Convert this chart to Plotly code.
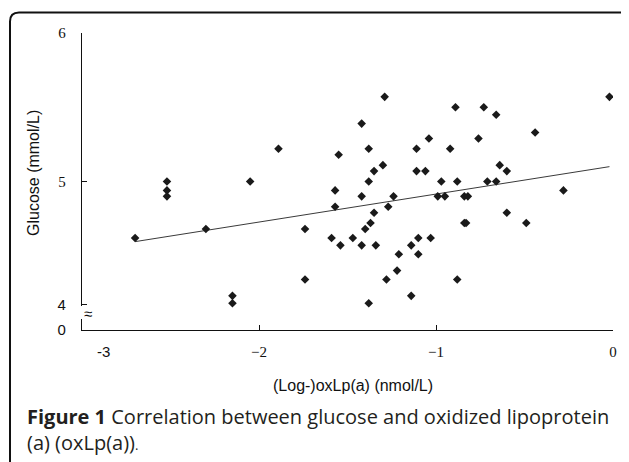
import plotly.graph_objects as go

# ---- data ----
ox_lpa_log = [-2.70, -2.52, -2.52, -2.52, -2.30, -2.15, -2.15, -2.05, -1.89, -1.74,
              -1.74, -1.59, -1.55, -1.57, -1.57, -1.54, -1.47, -1.42, -1.42, -1.42,
              -1.29, -1.38, -1.30, -1.35, -1.38, -1.24, -1.27, -1.35, -1.37, -1.40,
              -1.34, -1.21, -1.22, -1.28, -1.38, -1.14, -1.14, -1.10, -1.10, -1.03,
              -1.11, -1.04, -1.11, -1.06, -0.97, -0.99, -0.95, -0.89, -0.92, -0.88,
              -0.84, -0.82, -0.84, -0.83, -0.88, -0.73, -0.66, -0.76, -0.71, -0.66,
              -0.64, -0.60, -0.60, -0.49, -0.44, -0.28, -0.02]
glucose = [4.62, 5.00, 4.94, 4.90, 4.68, 4.23, 4.18, 5.00, 5.22, 4.68,
           4.34, 4.62, 5.18, 4.94, 4.83, 4.57, 4.62, 5.39, 4.90, 4.57,
           5.57, 5.22, 5.11, 5.07, 5.00, 4.90, 4.83, 4.79, 4.72, 4.68,
           4.57, 4.51, 4.40, 4.34, 4.18, 4.23, 4.57, 4.62, 4.51, 4.62,
           5.22, 5.29, 5.07, 5.07, 5.00, 4.90, 4.90, 5.50, 5.22, 5.00,
           4.90, 4.90, 4.72, 4.72, 4.34, 5.50, 5.45, 5.29, 5.00, 5.00,
           5.11, 5.07, 4.79, 4.72, 5.33, 4.94, 5.57]
trend_x = [-2.70, -0.02]
trend_y = [4.595, 5.10]

x_tick_vals = [-2, -1, 0]
x_tick_text = ["\u22122", "\u22121", "0"]
y_tick_vals = [4.0, 4.172, 5, 6]
y_tick_text = ['<span style="font-family:Liberation Sans">0</span>',
               '<span style="font-family:Liberation Sans">4</span>', "5", "6"]

# page body has an 8px margin: work in window pixels and shift
OFF = 8
W, H = 629 - OFF, 462 - OFF
L, T = 82 - OFF, 33 - OFF
PW, PH = 531, 297
R, B = W - L - PW, H - T - PH


def px(xp):
    return (xp - OFF - L) / PW


def py(yp):
    return 1 - (yp - OFF - T) / PH


fig = go.Figure()
fig.add_trace(go.Scatter(x=trend_x, y=trend_y, mode="lines",
                         line=dict(color="#3a3a3a", width=1), hoverinfo="skip",
                         showlegend=False))
fig.add_trace(go.Scatter(x=ox_lpa_log, y=glucose, mode="markers",
                         marker=dict(symbol="diamond", size=6.6, color="#1a1a1a",
                                     line=dict(width=0)),
                         showlegend=False))

serif = "Liberation Serif"
sans = "Liberation Sans"

fig.update_layout(
    width=W, height=H,
    margin=dict(l=L, r=R, t=T, b=B),
    paper_bgcolor="white", plot_bgcolor="white",
    xaxis=dict(range=[-3, 0], showgrid=False, zeroline=False, showline=True,
               linecolor="#111", linewidth=1.3, ticks="inside", ticklen=5,
               tickcolor="#111", tickwidth=1.2,
               tickvals=x_tick_vals, ticktext=x_tick_text,
               tickfont=dict(family=serif, size=15, color="#111"),
               ticklabelstandoff=8),
    yaxis=dict(range=[4.0, 6.0], showgrid=False, zeroline=False, showline=True,
               linecolor="#111", linewidth=1.3, ticks="inside", ticklen=5,
               tickcolor="#111", tickwidth=1.2,
               tickvals=y_tick_vals, ticktext=y_tick_text,
               tickfont=dict(family=serif, size=15, color="#111"),
               ticklabelstandoff=12),
)

# axis break on the y axis
fig.add_shape(type="rect", xref="paper", yref="paper",
              x0=px(78), x1=px(86), y0=py(319), y1=py(306),
              fillcolor="white", line=dict(width=0), layer="above")
fig.add_annotation(xref="paper", yref="paper", x=px(88), y=py(313),
                   text="\u2248", showarrow=False, font=dict(family=sans, size=15, color="#111"),
                   xanchor="center", yanchor="middle")
# '-3' label (offset from the axis corner)
fig.add_annotation(xref="paper", yref="paper", x=px(103), y=py(351),
                   text="-3", showarrow=False, font=dict(family=sans, size=15, color="#111"),
                   xanchor="center", yanchor="middle")

# axis titles
fig.add_annotation(xref="paper", yref="paper", x=px(353), y=py(385),
                   text="(Log-)oxLp(a) (nmol/L)", showarrow=False,
                   font=dict(family=sans, size=16, color="#111"),
                   xanchor="center", yanchor="middle")
fig.add_annotation(xref="paper", yref="paper", x=px(33), y=py(173),
                   text="Glucose (mmol/L)", showarrow=False, textangle=-90,
                   font=dict(family=sans, size=16, color="#111"),
                   xanchor="center", yanchor="middle")

# caption (one text block, two lines)
cap_font = dict(family="Open Sans", size=20, color="#231f20")
fig.add_annotation(xref="paper", yref="paper", x=px(25), y=py(429.5),
                   text="<b>Figure 1</b> Correlation between glucose and oxidized lipoprotein"
                        '<br>(a) (oxLp(a))<span style="font-size:13px">.</span>',
                   showarrow=False, font=cap_font, align="left",
                   xanchor="left", yanchor="middle")

# rounded frame
x0, xr = px(10), px(660)
yb, ytop = py(480), py(12.5)
xc, yc = px(19), py(21.5)
fig.add_shape(type="path", xref="paper", yref="paper",
              path=f"M {x0},{yb} L {x0},{yc} Q {x0},{ytop} {xc},{ytop} L {xr},{ytop}",
              line=dict(color="#111", width=2), layer="above")

fig.write_html("out.html")
